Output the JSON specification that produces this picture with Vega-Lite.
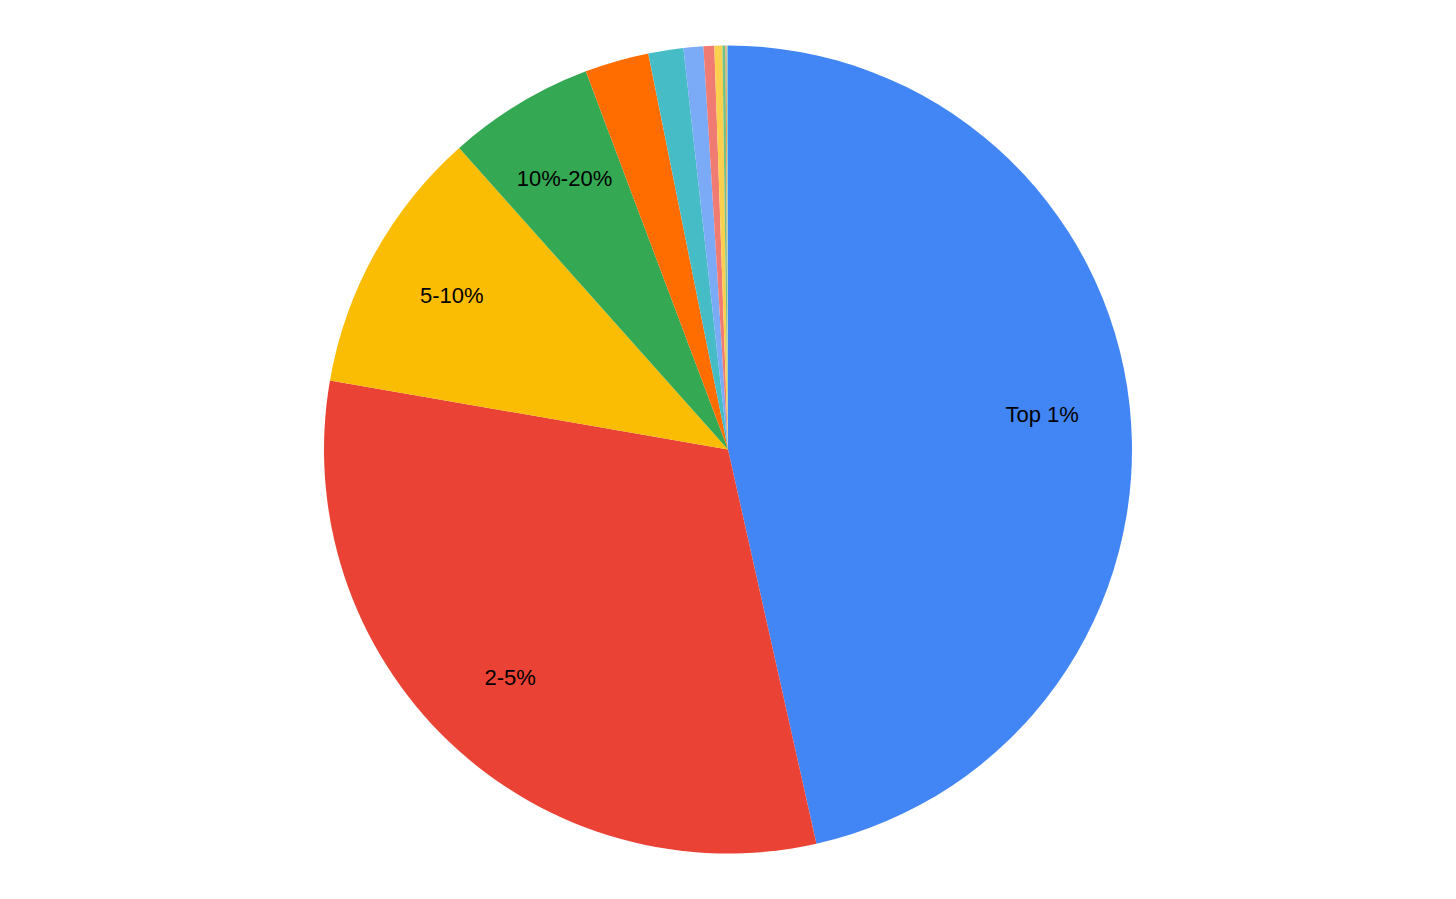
{
  "$schema": "https://vega.github.io/schema/vega-lite/v6.json",
  "autosize": {"type": "fit", "contains": "padding"},
  "width": 1456,
  "height": 899,
  "background": "white",
  "view": {"stroke": null},
  "data": {
    "values": [
      {"i": 1, "group": "Top 1%", "share": 46.46, "label": "Top 1%"},
      {"i": 2, "group": "2-5%", "share": 31.23, "label": "2-5%"},
      {"i": 3, "group": "5-10%", "share": 10.67, "label": "5-10%"},
      {"i": 4, "group": "10%-20%", "share": 5.86, "label": "10%-20%"},
      {"i": 5, "group": "20%-30%", "share": 2.56, "label": ""},
      {"i": 6, "group": "30%-40%", "share": 1.4, "label": ""},
      {"i": 7, "group": "40%-50%", "share": 0.79, "label": ""},
      {"i": 8, "group": "50%-60%", "share": 0.43, "label": ""},
      {"i": 9, "group": "60%-70%", "share": 0.32, "label": ""},
      {"i": 10, "group": "70%-80%", "share": 0.12, "label": ""},
      {"i": 11, "group": "80%-90%", "share": 0.05, "label": ""},
      {"i": 12, "group": "90%-100%", "share": 0.05, "label": ""}
    ]
  },
  "encoding": {
    "theta": {"field": "share", "type": "quantitative", "stack": true},
    "order": {"field": "i", "type": "quantitative"}
  },
  "layer": [
    {
      "mark": {"type": "arc", "outerRadius": 404},
      "encoding": {
        "color": {
          "field": "group",
          "type": "nominal",
          "sort": {"field": "i"},
          "scale": {
            "domain": ["Top 1%", "2-5%", "5-10%", "10%-20%", "20%-30%", "30%-40%", "40%-50%", "50%-60%", "60%-70%", "70%-80%", "80%-90%", "90%-100%"],
            "range": ["#4285F4", "#EA4335", "#FBBC04", "#34A853", "#FF6D01", "#46BDC6", "#7BAAF7", "#F07B72", "#FCD04F", "#71C287", "#FF994D", "#7ED1D7"]
          },
          "legend": null
        }
      }
    },
    {
      "mark": {"type": "text", "radius": 316, "font": "Liberation Sans", "fontSize": 22, "color": "#000000"},
      "encoding": {"text": {"field": "label"}}
    }
  ]
}
